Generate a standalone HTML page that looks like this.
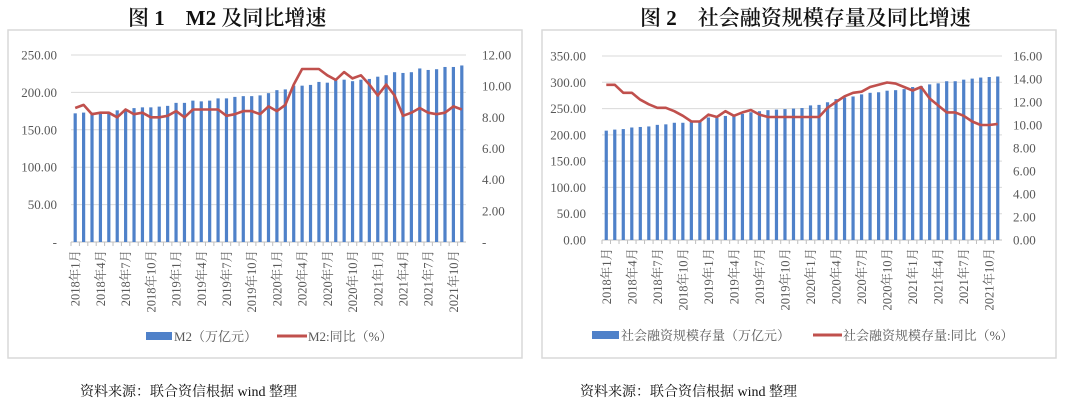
<!DOCTYPE html>
<html><head><meta charset="utf-8"><style>
body{margin:0;width:1080px;height:408px;background:#fff;overflow:hidden;font-family:"Liberation Serif","Noto Serif CJK SC",serif;}
.t{position:absolute;top:2px;font-size:21px;color:#111;white-space:nowrap;font-weight:600}
.f{position:absolute;top:381px;font-size:14px;color:#111;white-space:nowrap}
svg{position:absolute;left:0;top:0}
</style></head><body>
<div class="t" style="left:128px">图 1　M2 及同比增速</div>
<div class="t" style="left:640px">图 2　社会融资规模存量及同比增速</div>
<div class="f" style="left:80px">资料来源：联合资信根据 wind 整理</div>
<div class="f" style="left:580px">资料来源：联合资信根据 wind 整理</div>
<svg id="s" width="1080" height="408" xmlns="http://www.w3.org/2000/svg" font-family="Liberation Serif, Noto Serif CJK SC, serif"></svg>
<script>
const s=document.getElementById('s');let h='';
function chart(o){
 h+=`<rect x="${o.px}" y="30" width="${o.pw}" height="328" fill="#fff" stroke="#d9d9d9" stroke-width="1.5"/>`;
 const n=47,cw=(o.x1-o.x0)/n,H=o.yb-o.yt;
 for(let i=0;i<=o.nt;i++){const y=o.yb-H*i/o.nt;
  if(i>0)h+=`<line x1="${o.x0}" x2="${o.x1}" y1="${y}" y2="${y}" stroke="#d9d9d9"/>`;
  const lv=o.lmax*i/o.nt;
  h+=`<text x="${o.lx}" y="${y+4.5}" font-size="13" fill="#595959" text-anchor="end">${(i==0&&o.dash)?'-':lv.toFixed(2)}</text>`;
 }
 for(let i=0;i<=o.rnt;i++){const y=o.yb-H*i/o.rnt;const rv=o.rmax*i/o.rnt;
  h+=`<text x="${o.rx}" y="${y+4.5}" font-size="13" fill="#595959">${(i==0&&o.dash)?'-':rv.toFixed(2)}</text>`;
 }
 h+=`<line x1="${o.x0}" x2="${o.x1}" y1="${o.yb}" y2="${o.yb}" stroke="#bfbfbf"/>`;
 let pts=[];
 for(let i=0;i<n;i++){const cx=o.x0+cw*(i+.5);const bh=o.bars[i]/o.lmax*H;
  h+=`<rect x="${cx-1.6}" y="${o.yb-bh}" width="3.2" height="${bh}" fill="#4f81c9"/>`;
  pts.push(cx.toFixed(1)+','+(o.yb-o.line[i]/o.rmax*H).toFixed(1));
  h+=`<line x1="${o.x0+cw*i}" x2="${o.x0+cw*i}" y1="${o.yb}" y2="${o.yb+4}" stroke="#bfbfbf"/>`;
  if(i%3==0){const yr=2018+Math.floor(i/12),m=i%12+1;
   h+=`<text transform="translate(${cx+4.5},${o.yb+8}) rotate(-90)" font-size="12.5" fill="#595959" text-anchor="end">${yr}年${m}月</text>`;}
 }
 h+=`<polyline points="${pts.join(' ')}" fill="none" stroke="#c0504d" stroke-width="2.6" stroke-linejoin="round"/>`;
 h+=`<rect x="${o.lg[0]}" y="${o.ly-4}" width="${o.lg[1]-o.lg[0]}" height="8" fill="#4f81c9"/>`;
 h+=`<text x="${o.lg[1]+2}" y="${o.ly+5}" font-size="13" fill="#595959">${o.t1}</text>`;
 h+=`<line x1="${o.lg[2]}" x2="${o.lg[3]}" y1="${o.ly}" y2="${o.ly}" stroke="#c0504d" stroke-width="3"/>`;
 h+=`<text x="${o.lg[3]+1}" y="${o.ly+5}" font-size="13" fill="#595959">${o.t2}</text>`;
}
chart({px:8,pw:514,x0:71,x1:466,yt:55,yb:242,nt:5,rnt:6,lmax:250,rmax:12,lx:57,rx:482,dash:true,ly:336,lg:[146,172,277,307],
t1:'M2（万亿元）',t2:'M2:同比（%）',
bars:[172,173,173,173,174,176,177,179,180,180,181,182,186,186,189,188,189,192,192,194,195,195,196,199,203,204,209,209,210,214,213,216,217,215,217,218,221,223,227,226,227,232,230,231,234,234,236],
line:[8.6,8.8,8.2,8.3,8.3,8.0,8.5,8.2,8.3,8.0,8.0,8.1,8.4,8.0,8.5,8.5,8.5,8.5,8.1,8.2,8.4,8.4,8.2,8.7,8.4,8.8,10.1,11.1,11.1,11.1,10.7,10.4,10.9,10.5,10.7,10.1,9.4,10.1,9.4,8.1,8.3,8.6,8.3,8.2,8.3,8.7,8.5]});
chart({px:542,pw:514,x0:602,x1:1002,yt:56,yb:240,nt:7,rnt:8,lmax:350,rmax:16,lx:586,rx:1013,dash:false,ly:335,lg:[592,619,813,842],
t1:'社会融资规模存量（万亿元）',t2:'社会融资规模存量:同比（%）',
bars:[208,210,211,214,215,216,219,220,223,223,225,226,233,232,236,238,240,243,245,247,248,249,250,251,256,257,262,268,271,273,277,280,281,284,285,287,291,293,296,298,302,302,305,307,309,310,311],
line:[13.5,13.5,12.8,12.8,12.2,11.8,11.5,11.5,11.2,10.8,10.3,10.3,10.9,10.7,11.2,10.8,11.1,11.3,10.9,10.7,10.7,10.7,10.7,10.7,10.7,10.7,11.5,12.0,12.5,12.8,12.9,13.3,13.5,13.7,13.6,13.3,13.0,13.3,12.3,11.7,11.1,11.1,10.8,10.3,10.0,10.0,10.1]});
s.innerHTML=h;
</script>
</body></html>
